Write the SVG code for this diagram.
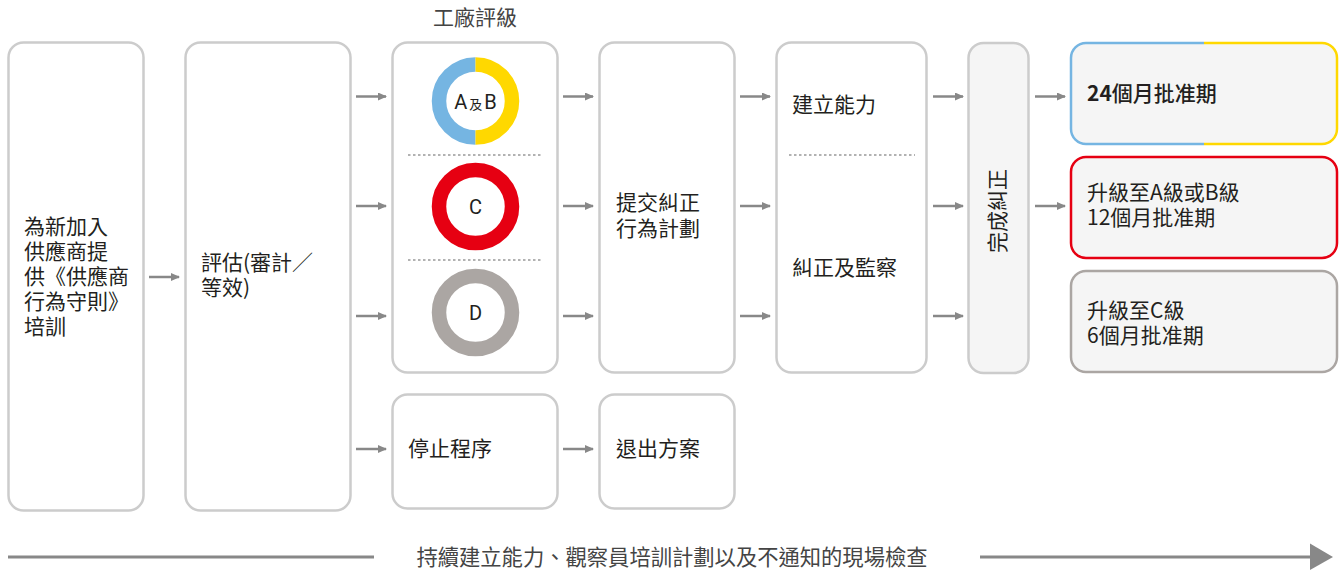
<svg xmlns="http://www.w3.org/2000/svg" width="1343" height="570" viewBox="0 0 1343 570">
<style>
.box{fill:#ffffff;stroke:#cccccc;stroke-width:2.5}
.gbox{fill:#f5f5f5;stroke:#cccccc;stroke-width:2.5}
.t{font-family:"Noto Sans CJK TC","Noto Sans",sans-serif;font-size:21px;fill:#231f20}
.lbl{font-family:Roboto,"Noto Sans CJK TC",sans-serif;font-size:20px;fill:#231f20}
.arr{stroke:#888888;stroke-width:2.5;fill:none;marker-end:url(#ah)}
.dot{stroke:#999999;stroke-width:1.5;stroke-dasharray:2.5 2.5}
.ring{fill:none;stroke-width:14.5}
</style>
<defs>
<marker id="ah" markerUnits="userSpaceOnUse" markerWidth="9" markerHeight="8" refX="8" refY="4" orient="auto">
<path d="M0,0 L9,4 L0,8 z" fill="#888888"/>
</marker>
<linearGradient id="by" gradientUnits="userSpaceOnUse" x1="1070" y1="0" x2="1338" y2="0">
<stop offset="0.5" stop-color="#75b5e2"/>
<stop offset="0.5" stop-color="#ffd800"/>
</linearGradient>
</defs>

<text class="t" x="475" y="25" text-anchor="middle" style="fill:#444">工廠評級</text>

<g id="training">
<rect class="box" x="8.5" y="42.5" width="135" height="468" rx="15"/>
<text class="t"><tspan x="24" y="234">為新加入</tspan><tspan x="24" y="259">供應商提</tspan><tspan x="24" y="284">供《供應商</tspan><tspan x="24" y="309">行為守則》</tspan><tspan x="24" y="334">培訓</tspan></text>
</g>

<g id="assess">
<rect class="box" x="185.5" y="42.5" width="165" height="468" rx="15"/>
<text class="t"><tspan x="201" y="270">評估(審計／</tspan><tspan x="201" y="295">等效)</tspan></text>
</g>

<g id="rating">
<rect class="box" x="392.5" y="42.5" width="165" height="330" rx="15"/>
<path class="ring" d="M475.5,64.5 A36.5,36.5 0 0 0 475.5,137.5" stroke="#75b5e2"/>
<path class="ring" d="M475.5,64.5 A36.5,36.5 0 0 1 475.5,137.5" stroke="#ffd800"/>
<text class="lbl" x="475.5" y="108.5" text-anchor="middle">A<tspan font-size="13" font-family="Noto Sans CJK TC" dx="2">及</tspan><tspan dx="2">B</tspan></text>
<line class="dot" x1="408" y1="155" x2="542" y2="155"/>
<circle class="ring" cx="475.5" cy="206.5" r="36.5" stroke="#e60012"/>
<text class="lbl" x="475.5" y="213.5" text-anchor="middle">C</text>
<line class="dot" x1="408" y1="260" x2="542" y2="260"/>
<circle class="ring" cx="475.5" cy="312.5" r="36.5" stroke="#aba6a3"/>
<text class="lbl" x="475.5" y="319.5" text-anchor="middle">D</text>
</g>

<g id="stop">
<rect class="box" x="392.5" y="394.5" width="165" height="114" rx="15"/>
<text class="t" x="408" y="456">停止程序</text>
</g>

<g id="plan">
<rect class="box" x="599.5" y="42.5" width="135" height="330" rx="15"/>
<text class="t"><tspan x="616" y="210">提交糾正</tspan><tspan x="616" y="236">行為計劃</tspan></text>
</g>

<g id="exit">
<rect class="box" x="599.5" y="394.5" width="135" height="114" rx="15"/>
<text class="t" x="616" y="456">退出方案</text>
</g>

<g id="capability">
<rect class="box" x="776.5" y="42.5" width="150" height="330" rx="15"/>
<text class="t" x="792" y="112">建立能力</text>
<line class="dot" x1="789" y1="155" x2="915" y2="155"/>
<text class="t" x="792" y="275">糾正及監察</text>
</g>

<g id="complete">
<rect class="gbox" x="968.5" y="43" width="60" height="330" rx="15"/>
<text class="t" transform="translate(1005,211) rotate(-90)" text-anchor="middle">完成糾正</text>
</g>

<g id="ab">
<rect x="1071" y="43" width="266" height="101" rx="15" fill="#f5f5f5" stroke="url(#by)" stroke-width="2.5"/>
<text class="t" x="1087" y="101"><tspan font-weight="bold">24</tspan><tspan font-weight="500">個月批准期</tspan></text>
</g>

<g id="c">
<rect x="1071" y="157" width="266" height="101" rx="15" fill="#f5f5f5" stroke="#e60012" stroke-width="2.5"/>
<text class="t"><tspan x="1087" y="200">升級至A級或B級</tspan><tspan x="1087" y="225">12個月批准期</tspan></text>
</g>

<g id="d">
<rect x="1071" y="271" width="266" height="101" rx="15" fill="#f5f5f5" stroke="#aba6a3" stroke-width="2.5"/>
<text class="t"><tspan x="1087" y="318">升級至C級</tspan><tspan x="1087" y="343">6個月批准期</tspan></text>
</g>

<g id="connectors">
<line class="arr" x1="149" y1="277" x2="179" y2="277"/>
<line class="arr" x1="356" y1="96.5" x2="386" y2="96.5"/>
<line class="arr" x1="356" y1="206" x2="386" y2="206"/>
<line class="arr" x1="356" y1="316" x2="386" y2="316"/>
<line class="arr" x1="356" y1="449" x2="386" y2="449"/>
<line class="arr" x1="563" y1="96.5" x2="593" y2="96.5"/>
<line class="arr" x1="563" y1="206" x2="593" y2="206"/>
<line class="arr" x1="563" y1="316" x2="593" y2="316"/>
<line class="arr" x1="563" y1="449" x2="593" y2="449"/>
<line class="arr" x1="740" y1="96.5" x2="770" y2="96.5"/>
<line class="arr" x1="740" y1="206" x2="770" y2="206"/>
<line class="arr" x1="740" y1="316" x2="770" y2="316"/>
<line class="arr" x1="933" y1="96.5" x2="963" y2="96.5"/>
<line class="arr" x1="933" y1="206" x2="963" y2="206"/>
<line class="arr" x1="933" y1="316" x2="963" y2="316"/>
<line class="arr" x1="1035" y1="96.5" x2="1065" y2="96.5"/>
<line class="arr" x1="1035" y1="206" x2="1065" y2="206"/>
</g>

<g id="timeline">
<line x1="8" y1="557" x2="374" y2="557" stroke="#888888" stroke-width="3"/>
<text class="t" x="672" y="564.5" text-anchor="middle" style="fill:#444;font-size:21.3px">持續建立能力、觀察員培訓計劃以及不通知的現場檢查</text>
<line x1="980" y1="557" x2="1312" y2="557" stroke="#888888" stroke-width="3"/>
<path d="M1310,543.5 L1333,557 L1310,570 z" fill="#888888"/>
</g>
</svg>
